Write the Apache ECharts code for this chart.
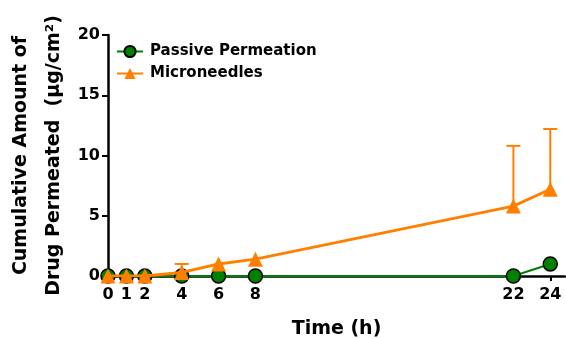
<!DOCTYPE html>
<html><head><meta charset="utf-8">
<script src="https://cdn.jsdelivr.net/npm/echarts@6/dist/echarts.min.js"></script>
<style>html,body{margin:0;padding:0;background:#fff}#c{width:566px;height:339px}</style>
</head><body><div id="c"></div>
<script>
const times = [0, 1, 2, 4, 6, 8, 22, 24];
const passive = [0, 0, 0, 0, 0, 0, 0, 1.0];
const micro = [0, 0, 0, 0.3, 1.0, 1.4, 5.8, 7.2];
const microErr = [0, 0, 0, 0.7, 0, 0, 5.0, 5.0];
const yTicks = [0, 5, 10, 15, 20];

const FONT = 'DejaVu Sans, sans-serif';
const chart = echarts.init(document.getElementById('c'));
const errData = times.map((t, i) => [t, micro[i], micro[i] + microErr[i]]).filter(d => d[2] > d[1]);
chart.setOption({
  animation: false,
  grid: { left: 108, right: 1, top: 35, bottom: 63, outerBoundsMode: 'none', containLabel: false },
  legend: {
    left: 111, top: 39, orient: 'vertical', itemGap: 7, itemWidth: 26, itemHeight: 14,
    textStyle: { fontFamily: FONT, fontWeight: 'bold', fontSize: 15, color: '#000', padding: [0, 0, 0, 2] },
    data: ['Passive Permeation', 'Microneedles']
  },
  xAxis: {
    type: 'value', min: 0, max: 24.8,
    name: 'Time (h)', nameLocation: 'middle', nameGap: 44, nameMoveOverlap: false,
    nameTextStyle: { fontFamily: FONT, fontWeight: 'bold', fontSize: 19, color: '#000' },
    axisLine: { lineStyle: { color: '#000', width: 2.5 } },
    axisTick: { show: true, length: 5, lineStyle: { color: '#000', width: 2 }, customValues: times },
    axisLabel: { customValues: times, fontFamily: FONT, fontWeight: 'bold', fontSize: 16, color: '#000', margin: 11 },
    splitLine: { show: false }
  },
  yAxis: {
    type: 'value', min: 0, max: 20, interval: 5,
    name: 'Cumulative Amount of\nDrug Permeated  (μg/cm²)', nameLocation: 'middle', nameGap: 37, nameMoveOverlap: false,
    nameTextStyle: { fontFamily: FONT, fontWeight: 'bold', fontSize: 19, color: '#000', lineHeight: 33 },
    axisLine: { show: true, lineStyle: { color: '#000', width: 2.5 } },
    axisTick: { show: true, length: 6, lineStyle: { color: '#000', width: 2 } },
    axisLabel: { fontFamily: FONT, fontWeight: 'bold', fontSize: 16, color: '#000', margin: 8 },
    splitLine: { show: false }
  },
  series: [
    {
      name: 'Passive Permeation', type: 'line', data: times.map((t, i) => [t, passive[i]]),
      symbol: 'circle', symbolSize: 14,
      itemStyle: { color: '#008000', borderColor: '#000', borderWidth: 1.5 },
      lineStyle: { color: '#008000', width: 2 }, z: 2
    },
    {
      name: 'Microneedles', type: 'line', data: times.map((t, i) => [t, micro[i]]),
      symbol: 'triangle', symbolSize: 15,
      itemStyle: { color: '#ff8000' },
      lineStyle: { color: '#ff8000', width: 3 }, z: 3
    },
    {
      name: 'err', type: 'custom', data: errData, z: 3,
      renderItem: function (params, api) {
        const p0 = api.coord([api.value(0), api.value(1)]);
        const p1 = api.coord([api.value(0), api.value(2)]);
        const w = 7;
        return {
          type: 'group', children: [
            { type: 'line', shape: { x1: p0[0], y1: p0[1], x2: p1[0], y2: p1[1] }, style: { stroke: '#ff8000', lineWidth: 2 } },
            { type: 'line', shape: { x1: p1[0] - w, y1: p1[1], x2: p1[0] + w, y2: p1[1] }, style: { stroke: '#ff8000', lineWidth: 2 } }
          ]
        };
      }
    }
  ]
});
</script></body></html>
